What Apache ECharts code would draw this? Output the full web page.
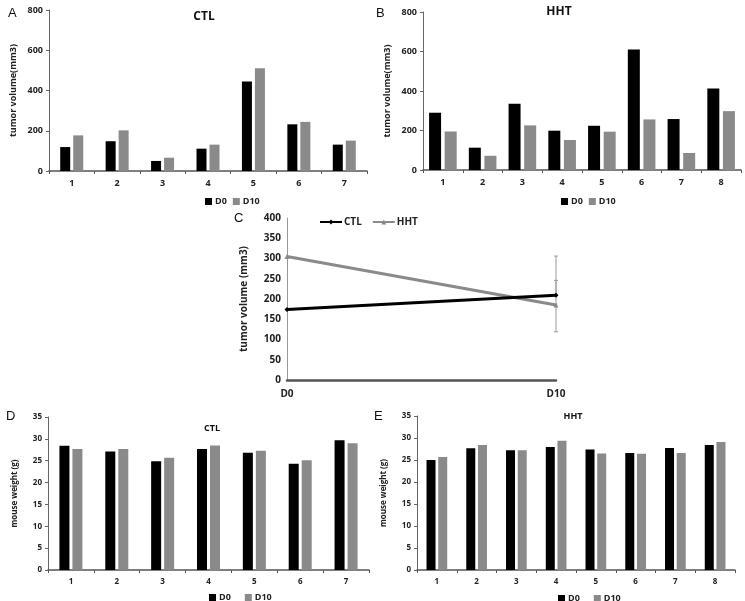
<!DOCTYPE html>
<html>
<head>
<meta charset="utf-8">
<script src="https://cdn.jsdelivr.net/npm/echarts@6/dist/echarts.min.js"></script>
<style>html,body{margin:0;padding:0;background:#fff}#c{width:745px;height:601px}</style>
</head>
<body>
<div id="c"></div>
<script>
// ---- data ----
const miceCtl = ['1','2','3','4','5','6','7'];
const miceHht = ['1','2','3','4','5','6','7','8'];
const ctlVolD0  = [119,148,50,111,445,232,131];
const ctlVolD10 = [177,202,66,131,510,244,151];
const hhtVolD0  = [290,113,335,199,224,610,258,413];
const hhtVolD10 = [195,72,226,152,194,256,86,298];
const days = ['D0','D10'];
const meanCtl = [174,209];
const meanHht = [305,185];
const errHht = [[1,119,306]];
const errCtl = [[1,209,246]];
const ctlWD0  = [28.4,27.1,24.9,27.7,26.8,24.3,29.7];
const ctlWD10 = [27.7,27.7,25.7,28.5,27.3,25.1,29.0];
const hhtWD0  = [25.0,27.65,27.2,27.95,27.4,26.6,27.7,28.4];
const hhtWD10 = [25.7,28.4,27.2,29.4,26.5,26.4,26.6,29.1];

const FONT = 'Open Sans';
const BLACK = '#000000', GREY = '#8a8a8a';
const chart = echarts.init(document.getElementById('c'), null, {renderer:'canvas'});

function catAxis(grid, data, fs){
  return {type:'category', gridIndex:grid, data:data, boundaryGap:true,
    axisLine:{lineStyle:{color:'#555', width:1.5}},
    axisTick:{show:true, length:3, alignWithLabel:false, lineStyle:{color:'#555'}},
    axisLabel:{color:'#222', fontFamily:FONT, fontWeight:'bold', fontSize:fs, margin:8}};
}
function valAxis(grid, max, interval, name, gap, fs){
  return {type:'value', gridIndex:grid, min:0, max:max, interval:interval,
    splitLine:{show:false},
    axisLine:{show:true, lineStyle:{color:'#666', width:1}},
    axisTick:{show:true, length:3, lineStyle:{color:'#666'}},
    axisLabel:{color:'#222', fontFamily:FONT, fontWeight:'bold', fontSize:fs, margin:6},
    name:name, nameLocation:'middle', nameGap:gap,
    nameTextStyle:{color:'#222', fontFamily:FONT, fontWeight:'bold', fontSize:fs}};
}
function bar(name, xi, data, color, w){
  return {type:'bar', name:name, xAxisIndex:xi, yAxisIndex:xi, data:data,
    barWidth:w, barGap:'30%', itemStyle:{color:color}, animation:false};
}
function errSeries(data){
  return {type:'custom', xAxisIndex:2, yAxisIndex:2, data:data, animation:false, z:1,
    renderItem:function(params, api){
      const lo = api.coord([api.value(0), api.value(1)]);
      const hi = api.coord([api.value(0), api.value(2)]);
      const st = {stroke:'#9a9a9a', lineWidth:1};
      return {type:'group', children:[
        {type:'line', shape:{x1:lo[0],y1:lo[1],x2:hi[0],y2:hi[1]}, style:st},
        {type:'line', shape:{x1:lo[0]-2,y1:lo[1],x2:lo[0]+2,y2:lo[1]}, style:st},
        {type:'line', shape:{x1:hi[0]-2,y1:hi[1],x2:hi[0]+2,y2:hi[1]}, style:st}
      ]};
    }};
}
function legend(left, top, gap){
  return {data:['D0','D10'], left:left, top:top, icon:'rect', itemWidth:7, itemHeight:7,
    itemGap:gap, selectedMode:false,
    textStyle:{color:'#222', fontFamily:FONT, fontWeight:'bold', fontSize:9, padding:[0,0,0,-2]}};
}
function txt(x, y, s, size, bold, align){
  return {type:'text', x:x, y:y, style:{text:s, fill:'#111',
    font:(bold?'bold ':'')+size+'px '+(bold?'"'+FONT+'"':'"Liberation Sans"'),
    textAlign:align||'left', textVerticalAlign:'middle'}};
}

chart.setOption({
  animation:false,
  grid:[
    {left:49, top:10, width:318, height:161},
    {left:423, top:12, width:318, height:158},
    {left:287, top:218, width:269, height:162},
    {left:48, top:417, width:321, height:153},
    {left:417, top:416, width:318, height:154}
  ],
  xAxis:[
    catAxis(0, miceCtl, 9),
    catAxis(1, miceHht, 9),
    {type:'category', gridIndex:2, data:days, boundaryGap:false,
      axisLine:{lineStyle:{color:'#555', width:2.5}}, axisTick:{show:false},
      axisLabel:{color:'#222', fontFamily:FONT, fontWeight:'bold', fontSize:10, margin:9}},
    catAxis(3, miceCtl, 8),
    catAxis(4, miceHht, 8)
  ],
  yAxis:[
    valAxis(0, 800, 200, 'tumor volume(mm3)', 31, 9),
    valAxis(1, 800, 200, 'tumor volume(mm3)', 31, 9),
    Object.assign(valAxis(2, 400, 50, 'tumor volume (mm3)', 38, 10),
      {axisLine:{show:true, lineStyle:{color:'#999', width:1}}, axisTick:{show:false}}),
    valAxis(3, 35, 5, 'mouse weight (g)', 29, 8),
    valAxis(4, 35, 5, 'mouse weight (g)', 29, 8)
  ],
  legend:[
    legend(200, 192, 6),
    legend(556, 192, 6),
    {data:['CTL','HHT'], left:314, top:212, itemWidth:22, itemHeight:6, itemGap:10, selectedMode:false,
      textStyle:{color:'#222', fontFamily:FONT, fontWeight:'bold', fontSize:10, padding:[0,0,0,-3]}},
    legend(204, 588, 14),
    legend(553, 589, 14)
  ],
  series:[
    bar('D0', 0, ctlVolD0, BLACK, 10),
    bar('D10', 0, ctlVolD10, GREY, 10),
    bar('D0', 1, hhtVolD0, BLACK, 12),
    bar('D10', 1, hhtVolD10, GREY, 12),
    errSeries(errHht),
    errSeries(errCtl),
    {type:'line', name:'CTL', xAxisIndex:2, yAxisIndex:2, data:meanCtl, color:BLACK,
      lineStyle:{width:3, color:BLACK}, symbol:'diamond', symbolSize:5, itemStyle:{color:BLACK}, z:3},
    {type:'line', name:'HHT', xAxisIndex:2, yAxisIndex:2, data:meanHht, color:GREY,
      lineStyle:{width:3, color:GREY}, symbol:'triangle', symbolSize:5, itemStyle:{color:GREY}, z:2},
    bar('D0', 3, ctlWD0, BLACK, 10),
    bar('D10', 3, ctlWD10, GREY, 10),
    bar('D0', 4, hhtWD0, BLACK, 9),
    bar('D10', 4, hhtWD10, GREY, 9)
  ],
  graphic:[
    txt(8, 13, 'A', 13, false),
    txt(376, 13, 'B', 13, false),
    txt(234, 218, 'C', 13, false),
    txt(6, 416, 'D', 13, false),
    txt(374, 416, 'E', 13, false),
    txt(204, 17, 'CTL', 12, true, 'center'),
    txt(559, 12, 'HHT', 12, true, 'center'),
    txt(212, 428, 'CTL', 9, true, 'center'),
    txt(573, 416, 'HHT', 9, true, 'center')
  ]
});
</script>
</body>
</html>
